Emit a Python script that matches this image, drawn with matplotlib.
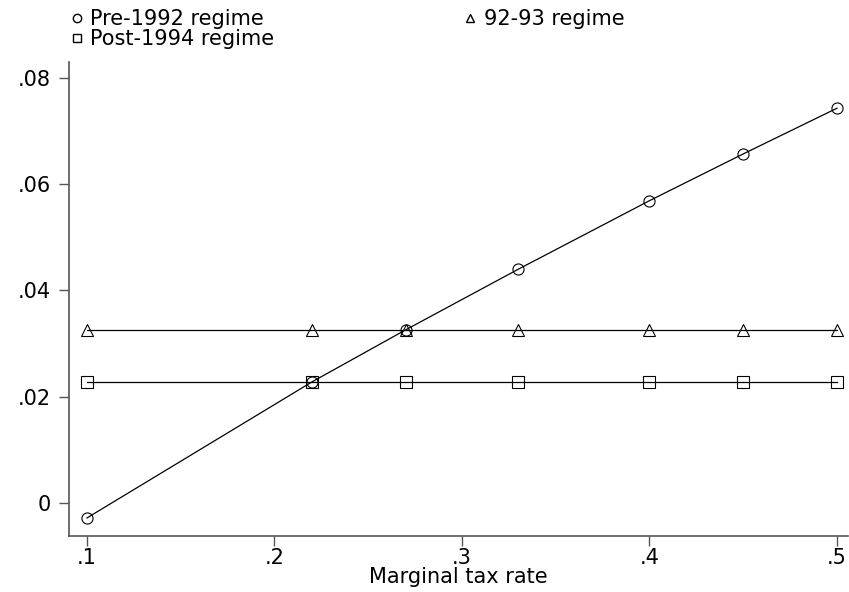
import matplotlib
matplotlib.use("Agg")
import matplotlib.pyplot as plt
from matplotlib.lines import Line2D

plt.rcParams["font.family"] = ["DejaVu Sans"]

# Marginal tax rates and the three regimes
tax_rate = [0.10, 0.22, 0.27, 0.33, 0.40, 0.45, 0.50]
pre_1992 = [-0.0028, 0.0228, 0.0326, 0.0440, 0.0569, 0.0657, 0.0743]
regime_92_93 = [0.0326] * 7
post_1994 = [0.0228] * 7

x_ticks = [0.1, 0.2, 0.3, 0.4, 0.5]
x_tick_labels = [".1", ".2", ".3", ".4", ".5"]
y_ticks = [0, 0.02, 0.04, 0.06, 0.08]
y_tick_labels = ["0", ".02", ".04", ".06", ".08"]

fig = plt.figure(figsize=(8.49, 5.92), dpi=100)
ax = fig.add_axes([69 / 849, 1 - 536 / 592, (848 - 69) / 849, (536 - 62) / 592])

style = dict(color="black", linewidth=0.9, markerfacecolor="none",
             markeredgecolor="black", markeredgewidth=0.8, markersize=8)
ax.plot(tax_rate, pre_1992, marker="o", **style)
ax.plot(tax_rate, regime_92_93, marker="^", **style)
ax.plot(tax_rate, post_1994, marker="s", **style)

ax.set_xlim(0.0904, 0.5059)
ax.set_ylim(-0.0062, 0.083)
ax.set_xticks(x_ticks)
ax.set_xticklabels(x_tick_labels)
ax.set_yticks(y_ticks)
ax.set_yticklabels(y_tick_labels)
ax.tick_params(labelsize=15, length=7, width=1, color="#555555")
ax.tick_params(axis="y", pad=6)
ax.tick_params(axis="x", pad=2)
ax.set_xlabel("Marginal tax rate", fontsize=15, labelpad=-1)

for side in ["top", "right"]:
    ax.spines[side].set_visible(False)
for side in ["left", "bottom"]:
    ax.spines[side].set_color("#555555")
    ax.spines[side].set_linewidth(1.2)

# Legend drawn above the axes, Stata style
handles = [
    Line2D([], [], linestyle="none", marker="o", markerfacecolor="none",
           markeredgecolor="black", markersize=6, label="Pre-1992 regime"),
    Line2D([], [], linestyle="none", marker="^", markerfacecolor="none",
           markeredgecolor="black", markersize=6, label="92-93 regime"),
    Line2D([], [], linestyle="none", marker="s", markerfacecolor="none",
           markeredgecolor="black", markersize=6, label="Post-1994 regime"),
]
order = [handles[0], handles[2], handles[1]]
fig.legend(handles=order, ncol=2, loc="upper left",
           bbox_to_anchor=(58 / 849, 1 - 1 / 592), frameon=False,
           fontsize=15, handletextpad=0.15, handlelength=1.0,
           labelspacing=0.0, columnspacing=8.9, borderaxespad=0)

fig.savefig("out.png", dpi=100, facecolor="white")
